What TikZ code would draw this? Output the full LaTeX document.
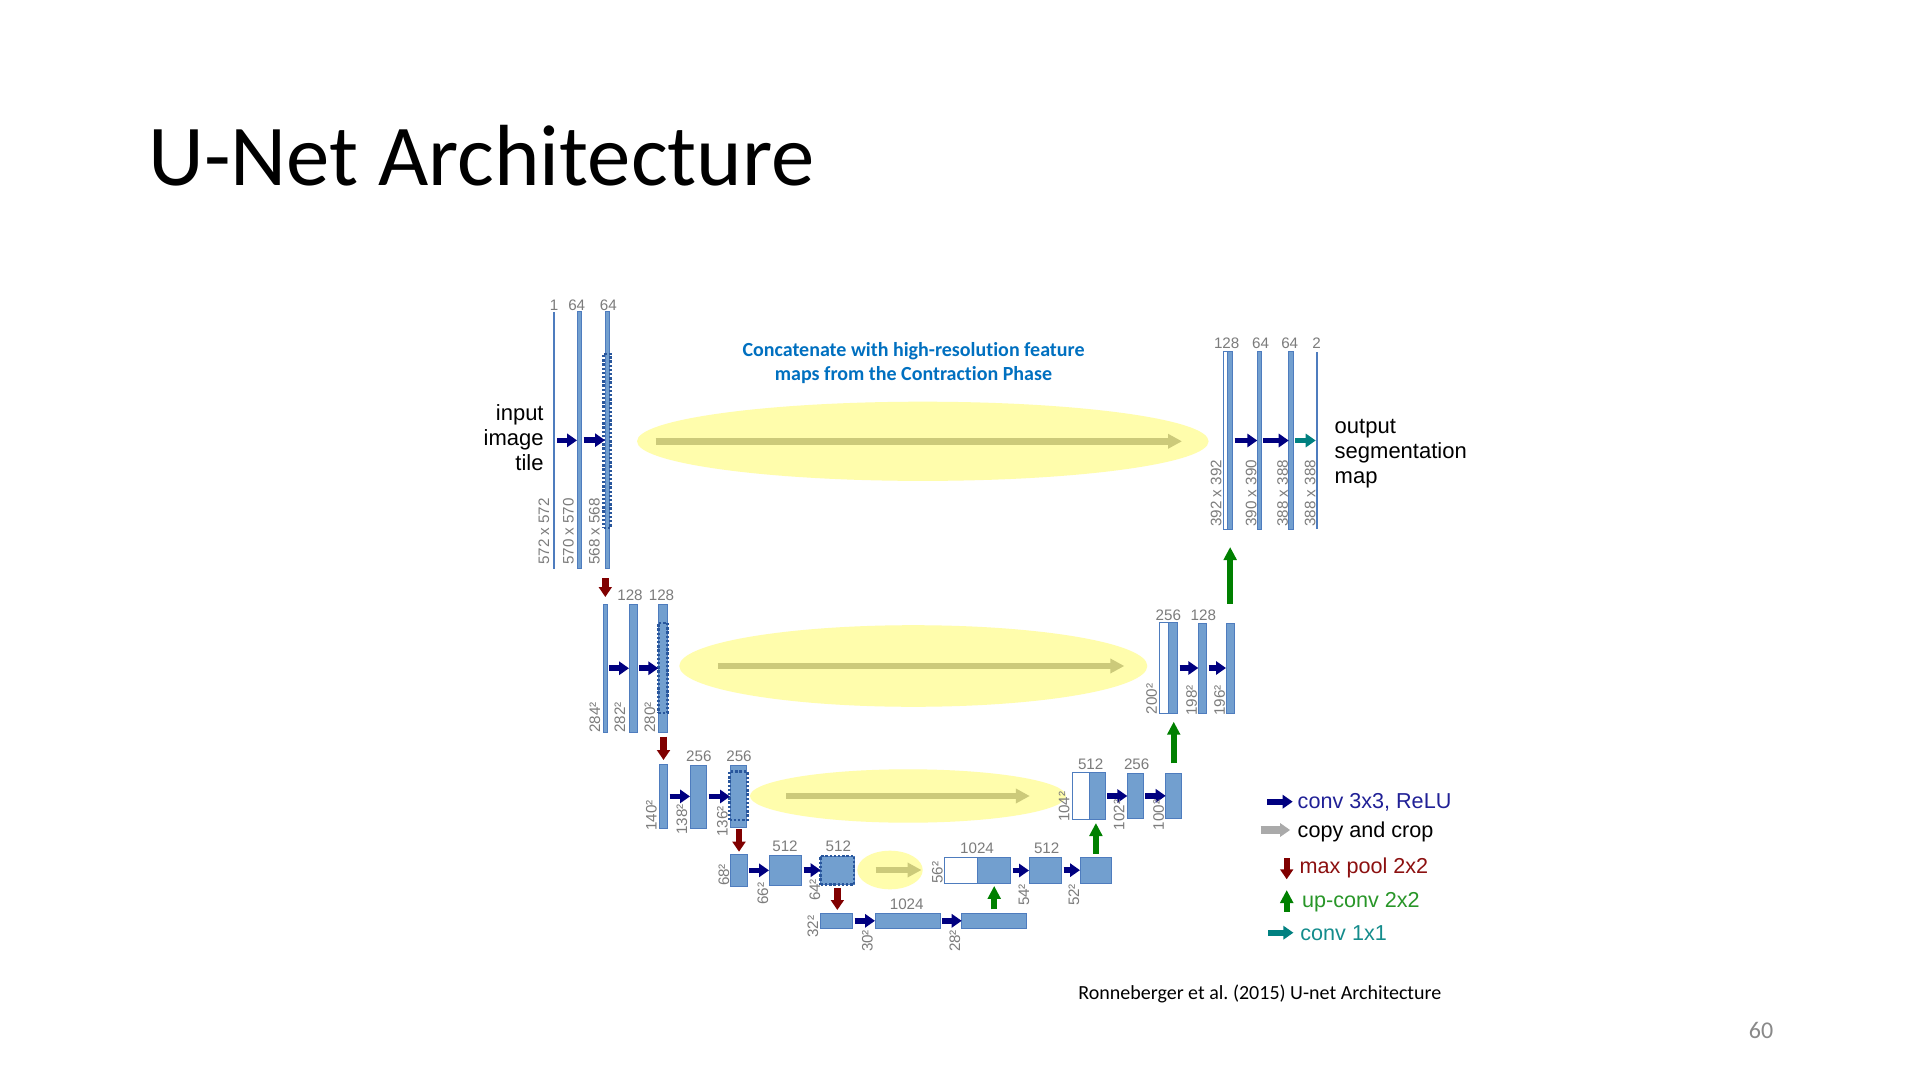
\documentclass[tikz,border=0pt]{standalone}
\usepackage{fontspec}
\setmainfont{Liberation Sans}
\newfontfamily\slidefont[Ligatures=NoCommon]{Carlito}
\usetikzlibrary{arrows.meta,fit,shapes.geometric}

\definecolor{colfill}{RGB}{114,159,207}
\definecolor{colline}{RGB}{78,124,190}
\definecolor{dotblue}{RGB}{40,86,156}
\definecolor{dimgray}{RGB}{124,124,124}
\definecolor{convblue}{RGB}{0,0,128}
\definecolor{poolred}{RGB}{128,0,0}
\definecolor{upgreen}{RGB}{0,128,0}
\definecolor{finteal}{RGB}{0,128,128}
\definecolor{copygray}{RGB}{170,170,170}
\definecolor{hlyellow}{RGB}{255,253,172}
\definecolor{hlarrow}{RGB}{204,202,122}
\definecolor{headblue}{RGB}{0,112,192}
\definecolor{convtext}{RGB}{32,32,150}
\definecolor{pooltext}{RGB}{140,16,16}
\definecolor{uptext}{RGB}{40,150,40}
\definecolor{fintext}{RGB}{20,140,140}
\definecolor{pagegray}{RGB}{137,137,137}

\tikzset{
  col/.style={draw=colline, fill=colfill, line width=0.5pt, inner sep=0pt, outer sep=0pt},
  wcol/.style={col, fill=white},
  thincol/.style={draw=none, fill=colline, inner sep=0pt, outer sep=0pt},
  dotbox/.style={draw=dotblue, line width=1.3pt, dash pattern=on 1.2pt off 0.9pt, inner sep=0pt, outer sep=0pt},
  dim/.style={text=dimgray, font=\fontsize{7.6}{8}\selectfont, inner sep=0pt},
  vdim/.style={dim, rotate=90},
  conv/.style={draw=convblue, line width=2.8pt, -{Triangle[width=6.6pt,length=5pt]}, shorten <=1pt},
  finconv/.style={conv, draw=finteal},
  pool/.style={draw=poolred, line width=3.2pt, -{Triangle[width=6.4pt,length=5pt]}},
  upconv/.style={draw=upgreen, line width=2.9pt, -{Triangle[width=6.3pt,length=6.5pt]}},
  copycrop/.style={draw=hlarrow, line width=3.3pt, -{Triangle[width=7pt,length=7pt]}},
  legcopy/.style={draw=copygray, line width=3.6pt, -{Triangle[width=6.6pt,length=5pt]}},
  hl/.style={ellipse, fill=hlyellow, draw=none, inner sep=0pt},
  legtext/.style={anchor=west, inner sep=0pt, font=\fontsize{10.8}{12}\selectfont},
  sidetext/.style={inner sep=0pt, font=\fontsize{11}{12.6}\selectfont}
}

\begin{document}
\begin{tikzpicture}[x=0.5pt,y=-0.5pt]
\useasboundingbox[fill=white] (0,0) rectangle (1920,1080);

% slide title, caption and page number
\node[anchor=base west, inner sep=0pt, font=\slidefont\fontsize{43.4}{48}\selectfont] (title) at (148,186) {U-Net Architecture};
\node[anchor=west, inner sep=0pt, font=\slidefont\fontsize{10}{12}\selectfont] (cite) at (1078,993.5) {Ronneberger et al.\ (2015) U-net Architecture};
\node[inner sep=0pt, text=pagegray, font=\slidefont\fontsize{12}{14}\selectfont] (page) at (1761,1030) {60};

% note on the skip connections
\node[align=center, inner sep=0pt, text=headblue, font=\slidefont\bfseries\fontsize{10}{12.25}\selectfont] (head) at (913.5,363.2)
  {Concatenate with high-resolution feature\\maps from the Contraction Phase};

% highlighted skip connections
\node[hl, minimum width=285.8pt, minimum height=39.6pt] (e1) at (922.8,441.3) {};
\node[hl, minimum width=234pt, minimum height=40.8pt] (e2) at (913.3,666) {};
\node[hl, minimum width=158pt, minimum height=26.7pt] (e3) at (908,796) {};
\node[hl, minimum width=32.7pt, minimum height=19.3pt] (e4) at (890,870) {};
\draw[copycrop, shorten <=9.5pt, shorten >=13.5pt] (e1.west) -- (e1.east);
\draw[copycrop, shorten <=19.5pt, shorten >=11.7pt] (e2.west) -- (e2.east);
\draw[copycrop, shorten <=18.3pt, shorten >=18.3pt] (e3.west) -- (e3.east);
\draw[copycrop, shorten <=9.3pt, shorten >=0.8pt] (e4.west) -- (e4.east);

% ---- contracting path ----
% level 1
\node[thincol, fit={(553.6,311.7) (555.2,569)}] (c11) {};
\node[col, fit={(577,311.7) (581.7,568.7)}] (c12) {};
\node[col, fit={(605,311.7) (609.5,568.7)}] (c13) {};
\node[dotbox, fit={(603.5,354) (610.5,528)}] (d13) {};
% level 2
\node[col, fit={(603.3,604) (607.3,732.5)}] (c21) {};
\node[col, fit={(629,604) (637.3,732.5)}] (c22) {};
\node[col, fit={(658.3,604) (667.3,732.5)}] (c23) {};
\node[dotbox, fit={(658.3,623) (667.3,713)}] (d23) {};
% level 3
\node[col, fit={(659.3,764.5) (667.7,828.3)}] (c31) {};
\node[col, fit={(690,765) (706.7,828)}] (c32) {};
\node[col, fit={(730,765) (746.7,827)}] (c33) {};
\node[dotbox, fit={(729.5,771.7) (747.2,820)}] (d33) {};
% level 4
\node[col, fit={(730.7,854.7) (747.3,886)}] (c41) {};
\node[col, fit={(769,855) (801.7,885.3)}] (c42) {};
\node[col, fit={(820.7,856) (854,884.7)}] (c43) {};
\node[dotbox, fit={(820.7,856) (854,884.7)}] (d43) {};
% bottom
\node[col, fit={(820,913.3) (852.7,928.3)}] (c51) {};
\node[col, fit={(875,913.3) (940,928.3)}] (c52) {};
\node[col, fit={(961.7,913.3) (1026.7,928.3)}] (c53) {};

% ---- expanding path ----
% level 4
\node[wcol, fit={(944.3,857.7) (977.3,883.3)}] (w4) {};
\node[col, fit={(977.3,857.7) (1010.7,883.3)}] (c4r1) {};
\node[col, fit={(1029,857.3) (1061.7,883)}] (c4r2) {};
\node[col, fit={(1080,857.3) (1111.8,883)}] (c4r3) {};
% level 3
\node[wcol, fit={(1072.7,772.7) (1089.3,819.3)}] (w3) {};
\node[col, fit={(1089.3,772.7) (1105,819.3)}] (c3r1) {};
\node[col, fit={(1127.3,773) (1143.3,818.7)}] (c3r2) {};
\node[col, fit={(1165.7,773) (1181.7,818.7)}] (c3r3) {};
% level 2
\node[wcol, fit={(1159.3,622.7) (1168.3,713.3)}] (w2) {};
\node[col, fit={(1168.3,622.7) (1177.7,713.3)}] (c2r1) {};
\node[col, fit={(1198.3,623) (1206.7,713)}] (c2r2) {};
\node[col, fit={(1226,623) (1234.3,713)}] (c2r3) {};
% level 1
\node[wcol, fit={(1223.3,351.7) (1227.7,529.3)}] (w1) {};
\node[col, fit={(1227.7,351.7) (1232.7,529.3)}] (c1r1) {};
\node[col, fit={(1257.3,351.7) (1261.3,529.3)}] (c1r2) {};
\node[col, fit={(1288.7,351.7) (1293,529.3)}] (c1r3) {};
\node[thincol, fit={(1316,351.7) (1317.4,529.3)}] (c1r4) {};

% 3x3 convolutions
\draw[conv] (c11.east) -- (c11.east -| c12.west);
\draw[conv] (c12.east) -- (c12.east -| c13.west);
\draw[conv] (c21.east) -- (c21.east -| c22.west);
\draw[conv] (c22.east) -- (c22.east -| c23.west);
\draw[conv] (c31.east) -- (c31.east -| c32.west);
\draw[conv] (c32.east) -- (c32.east -| c33.west);
\draw[conv] (c41.east) -- (c41.east -| c42.west);
\draw[conv] (c42.east) -- (c42.east -| c43.west);
\draw[conv] (c51.east) -- (c51.east -| c52.west);
\draw[conv] (c52.east) -- (c52.east -| c53.west);
\draw[conv] (c4r1.east) -- (c4r1.east -| c4r2.west);
\draw[conv] (c4r2.east) -- (c4r2.east -| c4r3.west);
\draw[conv] (c3r1.east) -- (c3r1.east -| c3r2.west);
\draw[conv] (c3r2.east) -- (c3r2.east -| c3r3.west);
\draw[conv] (c2r1.east) -- (c2r1.east -| c2r2.west);
\draw[conv] (c2r2.east) -- (c2r2.east -| c2r3.west);
\draw[conv] (c1r1.east) -- (c1r1.east -| c1r2.west);
\draw[conv] (c1r2.east) -- (c1r2.east -| c1r3.west);
\draw[finconv] (c1r3.east) -- (c1r3.east -| c1r4.west);

% max pooling
\draw[pool, shorten <=4.7pt, shorten >=3.5pt] (c21.north |- c13.south) -- (c21.north);
\draw[pool, shorten <=2.1pt, shorten >=2.25pt] (c31.north |- c23.south) -- (c31.north);
\draw[pool, shorten <=1pt, shorten >=1.5pt] (c41.north |- c33.south) -- (c41.north);
\draw[pool, shorten <=1.8pt, shorten >=1.65pt] (c43.south) -- (c43.south |- c51.north);

% up-convolutions
\draw[upconv, shorten <=2pt, shorten >=1.3pt] (c53.north) -- (c53.north |- c4r1.south);
\draw[upconv, shorten <=1.9pt, shorten >=1.85pt] (c4r3.north) -- (c4r3.north |- c3r1.south);
\draw[upconv, shorten <=4.85pt, shorten >=4.2pt] (c3r3.north) -- (c3r3.north |- c2r1.south);
\draw[upconv, shorten <=9.65pt, shorten >=8.85pt] (c2r3.north) -- (c2r3.north |- c1r1.south);

% channel counts
\node[dim] (n11) at (554,305.3) {1};
\node[dim] (n12) at (576.7,305.3) {64};
\node[dim] (n13) at (608.3,305.3) {64};
\node[dim] (n22) at (630,595.3) {128};
\node[dim] (n23) at (661.5,595.3) {128};
\node[dim] (n32) at (698.8,756) {256};
\node[dim] (n33) at (739,756) {256};
\node[dim] (n42) at (785,846) {512};
\node[dim] (n43) at (838.3,846) {512};
\node[dim] (n52) at (906.7,904) {1024};
\node[dim] (n4r1) at (977,848) {1024};
\node[dim] (n4r2) at (1046.7,848) {512};
\node[dim] (n3r1) at (1090.7,764.7) {512};
\node[dim] (n3r2) at (1136.7,764.7) {256};
\node[dim] (n2r1) at (1168.3,615.3) {256};
\node[dim] (n2r2) at (1203.3,615.3) {128};
\node[dim] (n1r1) at (1226.7,343.5) {128};
\node[dim] (n1r2) at (1260.5,343.5) {64};
\node[dim] (n1r3) at (1289.7,343.5) {64};
\node[dim] (n1r4) at (1316.7,343.5) {2};

% feature map sizes
\node[vdim] (s11) at (544,531.5) {572 x 572};
\node[vdim] (s12) at (568.5,531.5) {570 x 570};
\node[vdim] (s13) at (594.5,531.5) {568 x 568};
\node[vdim] (s21) at (595,717.5) {284²};
\node[vdim] (s22) at (620,717.5) {282²};
\node[vdim] (s23) at (650,717.5) {280²};
\node[vdim] (s31) at (651.5,815.5) {140²};
\node[vdim] (s32) at (682,819.5) {138²};
\node[vdim] (s33) at (722.5,821.5) {136²};
\node[vdim] (s41) at (724,875) {68²};
\node[vdim] (s42) at (763,893.5) {66²};
\node[vdim] (s43) at (815,890) {64²};
\node[vdim] (s51) at (813,926.5) {32²};
\node[vdim] (s52) at (867.5,941) {30²};
\node[vdim] (s53) at (955,941) {28²};
\node[vdim] (s4r1) at (937.5,872.5) {56²};
\node[vdim] (s4r2) at (1024,895) {54²};
\node[vdim] (s4r3) at (1074,895) {52²};
\node[vdim] (s3r1) at (1064,806.7) {104²};
\node[vdim] (s3r2) at (1119,815) {102²};
\node[vdim] (s3r3) at (1158.5,815) {100²};
\node[vdim] (s2r1) at (1151.5,699) {200²};
\node[vdim] (s2r2) at (1191.5,700.5) {198²};
\node[vdim] (s2r3) at (1219.7,700.5) {196²};
\node[vdim] (s1r1) at (1216,493.3) {392 x 392};
\node[vdim] (s1r2) at (1251,493.3) {390 x 390};
\node[vdim] (s1r3) at (1282.5,493.3) {388 x 388};
\node[vdim] (s1r4) at (1310,493.3) {388 x 388};

% input and output
\node[sidetext, align=right, anchor=east] (inp) at (544,437.5) {input\\image\\tile};
\node[sidetext, align=left, anchor=west] (outp) at (1334.3,453.5) {output\\segmentation\\map};

% legend
\node[legtext, text=convtext] (lg1) at (1297.3,802) {conv 3x3, ReLU};
\node[legtext] (lg2) at (1297.3,832) {copy and crop};
\node[legtext, text=pooltext] (lg3) at (1299.3,868) {max pool 2x2};
\node[legtext, text=uptext] (lg4) at (1301.7,902) {up-conv 2x2};
\node[legtext, text=fintext] (lg5) at (1300,933) {conv 1x1};
\coordinate (k1) at (1267.3,801.7);
\coordinate (k2) at (1260.7,830);
\coordinate (k3a) at (1286.7,858.3);
\coordinate (k3b) at (1286.7,879.3);
\coordinate (k4a) at (1286.7,911.7);
\coordinate (k4b) at (1286.7,890);
\coordinate (k5) at (1268.3,932.7);
\draw[conv, shorten <=0pt, shorten >=2.3pt] (k1) -- (k1 -| lg1.west);
\draw[legcopy, shorten >=3.6pt] (k2) -- (k2 -| lg2.west);
\draw[pool] (k3a) -- (k3b);
\draw[upconv] (k4a) -- (k4b);
\draw[finconv, shorten <=0pt, shorten >=3.3pt] (k5) -- (k5 -| lg5.west);
\end{tikzpicture}
\end{document}
